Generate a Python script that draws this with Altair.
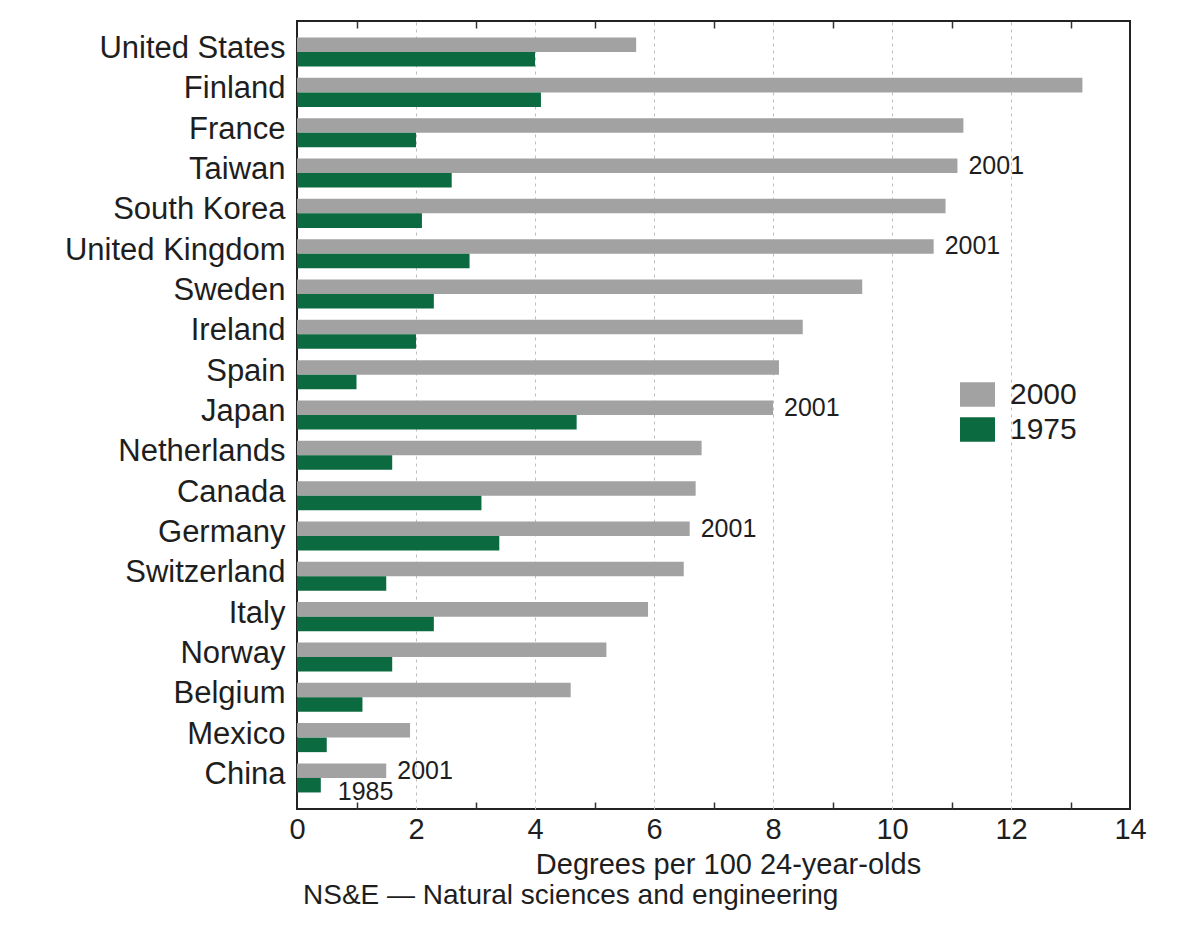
import altair as alt
import pandas as pd

# ---------------- data ----------------
countries = ["United States", "Finland", "France", "Taiwan", "South Korea",
             "United Kingdom", "Sweden", "Ireland", "Spain", "Japan",
             "Netherlands", "Canada", "Germany", "Switzerland", "Italy",
             "Norway", "Belgium", "Mexico", "China"]
v2000 = [5.7, 13.2, 11.2, 11.1, 10.9, 10.7, 9.5, 8.5, 8.1, 8.0,
         6.8, 6.7, 6.6, 6.5, 5.9, 5.2, 4.6, 1.9, 1.5]
v1975 = [4.0, 4.1, 2.0, 2.6, 2.1, 2.9, 2.3, 2.0, 1.0, 4.7,
         1.6, 3.1, 3.4, 1.5, 2.3, 1.6, 1.1, 0.5, 0.4]
series = ["2000", "1975"]
series_colors = ["#a2a2a2", "#0c6a41"]

ann2001_countries = ["Taiwan", "United Kingdom", "Japan", "Germany", "China"]
ann2001_text = "2001"
ann1985_countries = ["China"]
ann1985_text = "1985"

x_tick_values = list(range(0, 15))
x_title = "Degrees per 100 24-year-olds"
footnote = "NS&E — Natural sciences and engineering"

FONT = "Liberation Sans"
TXT = "#1e1e1e"

# ---------------- tables ----------------
rows = []
for c, a, b in zip(countries, v2000, v1975):
    rows.append({"country": c, "series": series[0], "value": a})
    rows.append({"country": c, "series": series[1], "value": b})
df = pd.DataFrame(rows)

lookup2000 = dict(zip(countries, v2000))
lookup1975 = dict(zip(countries, v1975))
ann_a = pd.DataFrame({"country": ann2001_countries,
                      "series": [series[0]] * len(ann2001_countries),
                      "value": [lookup2000[c] for c in ann2001_countries],
                      "label": [ann2001_text] * len(ann2001_countries)})
ann_b = pd.DataFrame({"country": ann1985_countries,
                      "series": [series[1]] * len(ann1985_countries),
                      "value": [lookup1975[c] for c in ann1985_countries],
                      "label": [ann1985_text] * len(ann1985_countries)})

# ---------------- encodings ----------------
xscale = alt.Scale(domain=[0, 14], nice=False, zero=True)

y_axis = alt.Axis(labelFontSize=31, labelColor=TXT, labelFont=FONT,
                  labelPadding=12, labelOffset=-3, ticks=False, domain=False,
                  labelLimit=400)
y_enc = alt.Y("country:N", sort=countries, title=None,
              scale=alt.Scale(paddingInner=0.28, paddingOuter=0.41),
              axis=y_axis)
yoff = alt.YOffset("series:N", sort=series,
                   scale=alt.Scale(domain=series, paddingInner=0, paddingOuter=0))

bottom_axis = alt.Axis(
    orient="bottom", values=x_tick_values,
    labelExpr="datum.value % 2 === 0 ? datum.label : ''",
    labelFontSize=29, labelColor=TXT, labelFont=FONT, labelPadding=13,
    labelFlush=False,
    domain=False,
    tickSize=alt.ExprRef("-7"), tickColor="#333333", tickWidth=1.5,
    tickOpacity={"condition": {"test": "datum.value % 2 === 1", "value": 1}, "value": 0},
    grid=True, gridColor="#bdbdbd", gridDash=[3, 4], gridWidth=1,
    gridOpacity={"condition": {"test": "datum.value % 2 === 0 && datum.value > 0 && datum.value < 14",
                               "value": 1}, "value": 0},
    title=x_title, titleFontSize=29, titleFontWeight="normal", titleColor=TXT,
    titleFont=FONT, titlePadding=6, titleX=431,
)
top_axis = alt.Axis(
    orient="top", values=[v for v in x_tick_values if v % 2 == 1],
    labels=False, domain=False, grid=False, title=None,
    tickSize=alt.ExprRef("-7"), tickColor="#333333", tickWidth=1.5,
)

bars = alt.Chart(df).mark_bar().encode(
    x=alt.X("value:Q", scale=xscale, axis=bottom_axis),
    y=y_enc,
    yOffset=yoff,
    color=alt.Color("series:N",
                    scale=alt.Scale(domain=series, range=series_colors),
                    legend=alt.Legend(orient="none", legendX=663, legendY=356,
                                      title=None,
                                      symbolType="M-1,-0.7H1V0.7H-1Z",
                                      symbolSize=1225, symbolStrokeWidth=0,
                                      labelFontSize=30, labelColor=TXT,
                                      labelFont=FONT, labelOffset=15,
                                      rowPadding=2)),
)

txt_a = alt.Chart(ann_a).mark_text(
    align="left", baseline="middle", dx=11, fontSize=25, font=FONT, color=TXT
).encode(
    x=alt.X("value:Q", scale=xscale, axis=top_axis),
    y=y_enc,
    yOffset=yoff,
    text="label:N",
)

txt_b = alt.Chart(ann_b).mark_text(
    align="left", baseline="middle", dx=17, dy=7, fontSize=25, font=FONT, color=TXT
).encode(
    x=alt.X("value:Q", scale=xscale, axis=None),
    y=y_enc,
    yOffset=yoff,
    text="label:N",
)

chart = alt.layer(bars, txt_a, txt_b).resolve_axis(x="independent").properties(
    width=833, height=788,
    autosize=alt.AutoSizeParams(type="none"),
    padding={"left": 289, "top": 13, "right": 47, "bottom": 104},
    title=alt.TitleParams(footnote, orient="bottom", anchor="start",
                          frame="group",
                          fontSize=28, fontWeight="normal", color=TXT,
                          font=FONT, dx=6, offset=3),
    background="#ffffff",
).configure_view(stroke="#222222", strokeWidth=2)

chart.save("out.html", embed_options={"renderer": "svg", "actions": False})
